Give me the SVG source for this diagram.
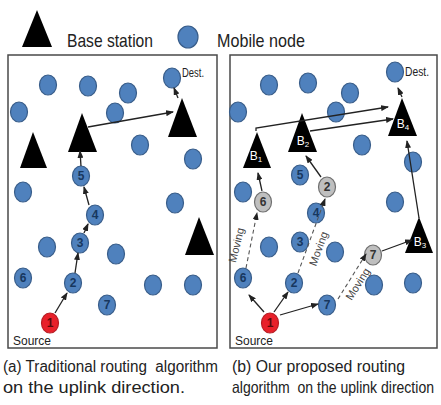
<svg xmlns="http://www.w3.org/2000/svg" width="441" height="405" viewBox="0 0 441 405">
<style>
.frame{fill:none;stroke:#4a4a4a;stroke-width:1.5}
.node{fill:#4f81bd;stroke:#385d8a;stroke-width:1.2}
.src{fill:#e8202a;stroke:#b81d24;stroke-width:1.2}
.gray{fill:#bfbfbf;stroke:#6f6f6f;stroke-width:1.2}
.bs{fill:#000}
.num{font-family:"Liberation Sans",Arial,sans-serif;font-size:12px;font-weight:bold;fill:#17375e;text-anchor:middle}
.gnum{font-family:"Liberation Sans",Arial,sans-serif;font-size:12px;font-weight:bold;fill:#333;text-anchor:middle}
.lbl{font-family:"Liberation Sans",Arial,sans-serif;font-size:12px;fill:#222}
.leg{font-family:"Liberation Sans",Arial,sans-serif;font-size:19px;fill:#222}
.cap{font-family:"Liberation Sans",Arial,sans-serif;font-size:16px;fill:#222}
.bl{font-family:"Liberation Sans",Arial,sans-serif;font-size:12px;fill:#fff;text-anchor:middle}
.mv{font-family:"Liberation Sans",Arial,sans-serif;font-size:11px;fill:#444;text-anchor:middle}
.ar{stroke:#222;stroke-width:1.3;fill:none;marker-end:url(#ah)}
.da{stroke:#555;stroke-width:1.1;fill:none;stroke-dasharray:4,3;marker-end:url(#ah)}
</style>
<defs>
<marker id="ah" markerWidth="8" markerHeight="6" refX="7" refY="3" orient="auto" markerUnits="userSpaceOnUse">
<path d="M0,0 L8,3 L0,6 z" fill="#222"/>
</marker>
</defs>
<rect width="441" height="405" fill="#fff"/>
<!-- legend -->
<g id="legend">
<polygon class="bs" points="37,10 22,47 52,47"/>
<text class="leg" x="67" y="47" textLength="86" lengthAdjust="spacingAndGlyphs">Base station</text>
<ellipse class="node" cx="188" cy="37" rx="10" ry="11"/>
<text class="leg" x="217" y="47" textLength="88" lengthAdjust="spacingAndGlyphs">Mobile node</text>
</g>
<!-- frames -->
<rect class="frame" x="8" y="55" width="209" height="293"/>
<rect class="frame" x="230" y="55" width="207" height="293"/>
<!-- LEFT PANEL -->
<g id="left-nodes">
<ellipse class="node" cx="48" cy="85" rx="8.5" ry="10"/>
<ellipse class="node" cx="88" cy="86" rx="8.5" ry="10"/>
<ellipse class="node" cx="128" cy="93" rx="8.5" ry="10"/>
<g id="L-dest"><ellipse class="node" cx="172" cy="78" rx="8.5" ry="10"/><text class="lbl" x="182" y="77" textLength="22" lengthAdjust="spacingAndGlyphs">Dest.</text></g>
<ellipse class="node" cx="19" cy="112" rx="8.5" ry="10"/>
<ellipse class="node" cx="115" cy="113" rx="8.5" ry="10"/>
<ellipse class="node" cx="140" cy="145" rx="8.5" ry="10"/>
<ellipse class="node" cx="193" cy="159" rx="8.5" ry="10"/>
<ellipse class="node" cx="23" cy="192" rx="8.5" ry="10"/>
<ellipse class="node" cx="175" cy="203" rx="8.5" ry="10"/>
<g id="L5"><ellipse class="node" cx="81" cy="176" rx="8.5" ry="10"/><text class="num" x="81" y="180">5</text></g>
<g id="L4"><ellipse class="node" cx="95" cy="215" rx="8.5" ry="10"/><text class="num" x="95" y="219">4</text></g>
<g id="L3"><ellipse class="node" cx="80" cy="243" rx="8.5" ry="10"/><text class="num" x="80" y="247">3</text></g>
<ellipse class="node" cx="47" cy="247" rx="8.5" ry="10"/>
<ellipse class="node" cx="116" cy="254" rx="8.5" ry="10"/>
<g id="L6"><ellipse class="node" cx="23" cy="278" rx="8.5" ry="10"/><text class="num" x="23" y="282">6</text></g>
<g id="L2"><ellipse class="node" cx="73" cy="283" rx="8.5" ry="10"/><text class="num" x="73" y="287">2</text></g>
<ellipse class="node" cx="153" cy="285" rx="8.5" ry="10"/>
<ellipse class="node" cx="193" cy="285" rx="8.5" ry="10"/>
<g id="L7"><ellipse class="node" cx="107" cy="305" rx="8.5" ry="10"/><text class="num" x="107" y="309">7</text></g>
<g id="L1"><ellipse class="src" cx="50" cy="323" rx="8.5" ry="10"/><text class="num" x="50" y="327" style="fill:#5a0a0a">1</text></g>
<text class="lbl" x="13" y="345" style="font-size:13px" textLength="38" lengthAdjust="spacingAndGlyphs">Source</text>
<polygon id="LBS1" class="bs" points="33,132 20,168 47,168"/>
<polygon id="LBS2" class="bs" points="82,113 68,152 97,152"/>
<polygon id="LBS3" class="bs" points="182,98 168,137 197,137"/>
<polygon id="LBS4" class="bs" points="199,217 185,255 214,255"/>
</g>
<g id="left-connectors">
<line class="ar" x1="55" y1="313" x2="67" y2="293"/>
<line class="ar" x1="75" y1="273" x2="78" y2="253"/>
<line class="ar" x1="84" y1="233" x2="88" y2="224"/>
<line class="ar" x1="89" y1="205" x2="84" y2="187"/>
<line class="ar" x1="81" y1="166" x2="80" y2="151"/>
<line class="ar" x1="88" y1="127" x2="173" y2="112"/>
<line class="ar" x1="178" y1="98" x2="174" y2="88"/>
</g>
<!-- RIGHT PANEL -->
<g id="right-nodes">
<ellipse class="node" cx="269" cy="85" rx="8.5" ry="10"/>
<ellipse class="node" cx="308" cy="83" rx="8.5" ry="10"/>
<ellipse class="node" cx="350" cy="93" rx="8.5" ry="10"/>
<g id="R-dest"><ellipse class="node" cx="395" cy="72" rx="8.5" ry="10"/><text class="lbl" x="405" y="76" textLength="24" lengthAdjust="spacingAndGlyphs">Dest.</text></g>
<ellipse class="node" cx="238" cy="112" rx="8.5" ry="10"/>
<ellipse class="node" cx="336" cy="112" rx="8.5" ry="10"/>
<ellipse class="node" cx="362" cy="145" rx="8.5" ry="10"/>
<ellipse class="node" cx="413" cy="162" rx="8.5" ry="10"/>
<ellipse class="node" cx="243" cy="192" rx="8.5" ry="10"/>
<ellipse class="node" cx="395" cy="202" rx="8.5" ry="10"/>
<g id="R5"><ellipse class="node" cx="300" cy="175" rx="8.5" ry="10"/><text class="num" x="300" y="179">5</text></g>
<g id="R4"><ellipse class="node" cx="316" cy="213" rx="8.5" ry="10"/><text class="num" x="316" y="217">4</text></g>
<g id="R3"><ellipse class="node" cx="300" cy="242" rx="8.5" ry="10"/><text class="num" x="300" y="246">3</text></g>
<ellipse class="node" cx="269" cy="247" rx="8.5" ry="10"/>
<ellipse class="node" cx="335" cy="252" rx="8.5" ry="10"/>
<g id="R6"><ellipse class="node" cx="243" cy="278" rx="8.5" ry="10"/><text class="num" x="243" y="282">6</text></g>
<g id="R2"><ellipse class="node" cx="294" cy="283" rx="8.5" ry="10"/><text class="num" x="294" y="287">2</text></g>
<ellipse class="node" cx="374" cy="285" rx="8.5" ry="10"/>
<ellipse class="node" cx="413" cy="283" rx="8.5" ry="10"/>
<g id="R7"><ellipse class="node" cx="327" cy="305" rx="8.5" ry="10"/><text class="num" x="327" y="309">7</text></g>
<g id="R1"><ellipse class="src" cx="270" cy="323" rx="8.5" ry="10"/><text class="num" x="270" y="327" style="fill:#5a0a0a">1</text></g>
<text class="lbl" x="235" y="345" style="font-size:13px" textLength="38" lengthAdjust="spacingAndGlyphs">Source</text>
<g id="G6"><ellipse class="gray" cx="263" cy="202" rx="8.5" ry="10"/><text class="gnum" x="263" y="206">6</text></g>
<g id="G2"><ellipse class="gray" cx="327" cy="187" rx="8.5" ry="10"/><text class="gnum" x="327" y="191">2</text></g>
<g id="G7"><ellipse class="gray" cx="373" cy="255" rx="8.5" ry="10"/><text class="gnum" x="373" y="259">7</text></g>
<g id="B1"><polygon class="bs" points="257,132 243,168 271,168"/><text class="bl" x="256" y="160">B<tspan font-size="8" dy="2">1</tspan></text></g>
<g id="B2"><polygon class="bs" points="302,113 288,152 317,152"/><text class="bl" x="303" y="145">B<tspan font-size="8" dy="2">2</tspan></text></g>
<g id="B4"><polygon class="bs" points="402,98 388,136 417,136"/><text class="bl" x="403" y="128">B<tspan font-size="8" dy="2">4</tspan></text></g>
<g id="B3"><polygon class="bs" points="419,217 405,253 433,253"/><text class="bl" x="420" y="246">B<tspan font-size="8" dy="2">3</tspan></text></g>
</g>
<g id="right-connectors">
<line class="ar" x1="264" y1="312" x2="249" y2="295"/>
<line class="ar" x1="274" y1="312" x2="288" y2="292"/>
<line class="ar" x1="280" y1="315" x2="318" y2="304"/>
<line class="da" x1="246" y1="268" x2="257" y2="213"/>
<line class="da" x1="298" y1="273" x2="325" y2="199"/>
<line class="da" x1="338" y1="299" x2="366" y2="254"/>
<line class="ar" x1="262" y1="191" x2="258" y2="173"/>
<line class="ar" x1="321" y1="177" x2="306" y2="156"/>
<line class="ar" x1="382" y1="251" x2="412" y2="240"/>
<line class="ar" x1="419" y1="218" x2="407" y2="141"/>
<polyline class="ar" points="256,131 256,128 388,107"/>
<line class="ar" x1="310" y1="131" x2="393" y2="119"/>
<line class="ar" x1="402" y1="97" x2="398" y2="88"/>
<text class="mv" transform="translate(240,246) rotate(-76)">Moving</text>
<text class="mv" transform="translate(322,250) rotate(-70)">Moving</text>
<text class="mv" transform="translate(361,286) rotate(-58)">Moving</text>
</g>
<!-- captions -->
<text class="cap" xml:space="preserve" x="3" y="372" textLength="215" lengthAdjust="spacingAndGlyphs">(a) Traditional routing  algorithm</text>
<text class="cap" x="3" y="393" textLength="182" lengthAdjust="spacingAndGlyphs">on the uplink direction.</text>
<text class="cap" x="232" y="372" textLength="173" lengthAdjust="spacingAndGlyphs">(b) Our proposed routing</text>
<text class="cap" xml:space="preserve" transform="translate(232,393) scale(1,1.22)" x="0" y="0" style="font-size:13px" textLength="202" lengthAdjust="spacingAndGlyphs">algorithm  on the uplink direction</text>
</svg>
